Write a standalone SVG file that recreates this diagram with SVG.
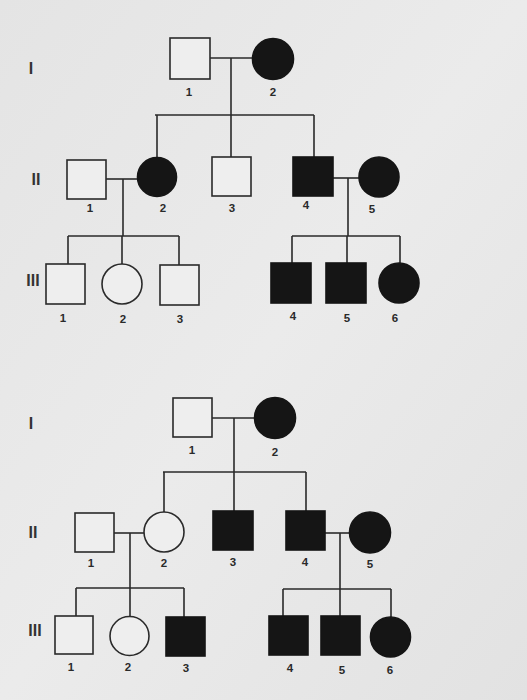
<svg xmlns="http://www.w3.org/2000/svg" width="527" height="700" viewBox="0 0 527 700">
<defs>
<linearGradient id="bg" x1="0" y1="0" x2="1" y2="1">
<stop offset="0" stop-color="#e4e4e4"/>
<stop offset="0.5" stop-color="#ebebeb"/>
<stop offset="1" stop-color="#e2e2e2"/>
</linearGradient>
<style>
.o{fill:#eeeeee;stroke:#2a2a2a;stroke-width:1.6}
.f{fill:#151515;stroke:#151515;stroke-width:1.6}
.ln{fill:none;stroke:#2a2a2a;stroke-width:1.6}
.g{font-family:"Liberation Sans",Arial,sans-serif;font-weight:bold;font-size:16px;fill:#333;text-anchor:middle}
.n{font-family:"Liberation Sans",Arial,sans-serif;font-weight:bold;font-size:11.5px;fill:#2a2a2a;text-anchor:middle}
</style>
</defs>
<rect width="527" height="700" fill="url(#bg)"/>

<!-- Generation labels -->
<g id="gen-labels">
<text class="g" x="31" y="74">I</text>
<text class="g" x="36" y="185">II</text>
<text class="g" x="33" y="286">III</text>
<text class="g" x="31" y="429">I</text>
<text class="g" x="33" y="538">II</text>
<text class="g" x="35" y="636">III</text>
</g>

<!-- Connectors -->
<g id="connectors" class="ln">
<!-- Pedigree A -->
<path d="M210 58H253"/>
<path d="M231 58V115"/>
<path d="M155 115H314"/>
<path d="M157 115V157M231 115V157M314 115V157"/>
<path d="M106 179H138"/>
<path d="M123 179V236"/>
<path d="M68 236H179"/>
<path d="M68 236V264M122 236V264M179 236V265"/>
<path d="M333 178H359"/>
<path d="M348 178V236"/>
<path d="M292 236H400"/>
<path d="M292 236V263M347 236V263M400 236V263"/>
<!-- Pedigree B -->
<path d="M212 418H255"/>
<path d="M234 418V472"/>
<path d="M163 472H306"/>
<path d="M164 472V512M234 472V511M306 472V511"/>
<path d="M114 533H144"/>
<path d="M130 533V588"/>
<path d="M76 588H184"/>
<path d="M76 588V616M130 588V617M184 588V617"/>
<path d="M325 533H350"/>
<path d="M340 533V589"/>
<path d="M283 589H391"/>
<path d="M283 589V616M340 589V616M391 589V617"/>
</g>

<!-- Pedigree A nodes -->
<g id="A-I-1"><rect class="o" x="170" y="38" width="40" height="41"/><text class="n" x="189" y="96">1</text></g>
<g id="A-I-2"><circle class="f" cx="273" cy="59" r="20.5"/><text class="n" x="273" y="96">2</text></g>
<g id="A-II-1"><rect class="o" x="67" y="160" width="39" height="39"/><text class="n" x="90" y="212">1</text></g>
<g id="A-II-2"><circle class="f" cx="157" cy="177" r="19.5"/><text class="n" x="163" y="212">2</text></g>
<g id="A-II-3"><rect class="o" x="212" y="157" width="39" height="39"/><text class="n" x="232" y="212">3</text></g>
<g id="A-II-4"><rect class="f" x="293" y="157" width="40" height="39"/><text class="n" x="306" y="209">4</text></g>
<g id="A-II-5"><circle class="f" cx="379" cy="177" r="20"/><text class="n" x="372" y="213">5</text></g>
<g id="A-III-1"><rect class="o" x="46" y="264" width="39" height="40"/><text class="n" x="63" y="322">1</text></g>
<g id="A-III-2"><circle class="o" cx="122" cy="284" r="20"/><text class="n" x="123" y="323">2</text></g>
<g id="A-III-3"><rect class="o" x="160" y="265" width="39" height="40"/><text class="n" x="180" y="323">3</text></g>
<g id="A-III-4"><rect class="f" x="271" y="263" width="40" height="40"/><text class="n" x="293" y="320">4</text></g>
<g id="A-III-5"><rect class="f" x="326" y="263" width="40" height="40"/><text class="n" x="347" y="322">5</text></g>
<g id="A-III-6"><circle class="f" cx="399" cy="283" r="20"/><text class="n" x="395" y="322">6</text></g>

<!-- Pedigree B nodes -->
<g id="B-I-1"><rect class="o" x="173" y="398" width="39" height="39"/><text class="n" x="192" y="454">1</text></g>
<g id="B-I-2"><circle class="f" cx="275" cy="418" r="20.5"/><text class="n" x="275" y="456">2</text></g>
<g id="B-II-1"><rect class="o" x="75" y="513" width="39" height="39"/><text class="n" x="91" y="567">1</text></g>
<g id="B-II-2"><circle class="o" cx="164" cy="532" r="20"/><text class="n" x="164" y="567">2</text></g>
<g id="B-II-3"><rect class="f" x="213" y="511" width="40" height="39"/><text class="n" x="233" y="566">3</text></g>
<g id="B-II-4"><rect class="f" x="286" y="511" width="39" height="39"/><text class="n" x="305" y="566">4</text></g>
<g id="B-II-5"><circle class="f" cx="370" cy="532.5" r="20.5"/><text class="n" x="370" y="568">5</text></g>
<g id="B-III-1"><rect class="o" x="55" y="616" width="38" height="38"/><text class="n" x="71" y="671">1</text></g>
<g id="B-III-2"><circle class="o" cx="129.5" cy="636" r="19.5"/><text class="n" x="128" y="671">2</text></g>
<g id="B-III-3"><rect class="f" x="166" y="617" width="39" height="39"/><text class="n" x="186" y="672">3</text></g>
<g id="B-III-4"><rect class="f" x="269" y="616" width="39" height="39"/><text class="n" x="290" y="672">4</text></g>
<g id="B-III-5"><rect class="f" x="321" y="616" width="39" height="39"/><text class="n" x="342" y="674">5</text></g>
<g id="B-III-6"><circle class="f" cx="390.5" cy="637" r="20"/><text class="n" x="390" y="674">6</text></g>
</svg>
